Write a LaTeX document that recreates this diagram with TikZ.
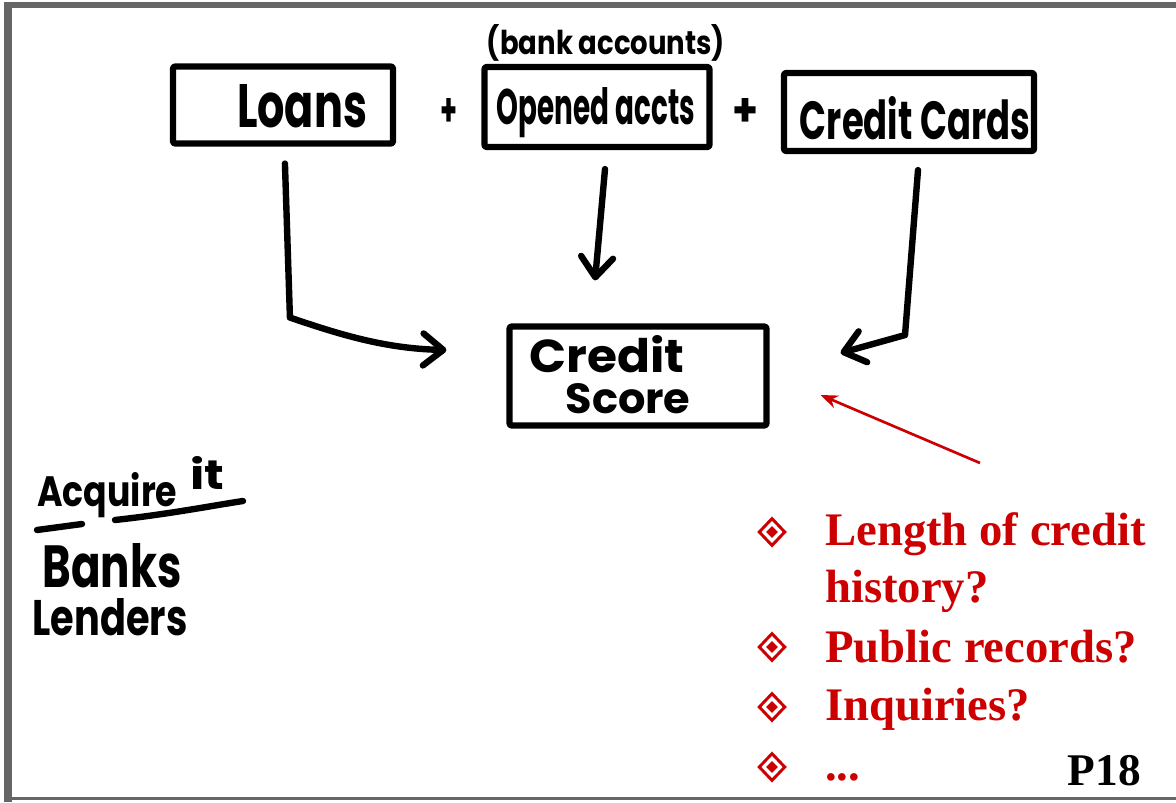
\documentclass[tikz,border=0pt]{standalone}
\usepackage{fontspec}
\usepackage{graphicx}
\setmainfont{Liberation Serif}
\newfontfamily\hand{Poppins}
\usetikzlibrary{arrows.meta,calc,shapes.geometric}
\definecolor{slidered}{RGB}{204,0,0}
\definecolor{framegrey}{RGB}{102,102,102}
\newdimen\px \px=0.75pt
% marker lettering squeezed into a given width and height (in px)
\newcommand\handtext[3]{\resizebox{#1\px}{#2\px}{\hand\bfseries #3}}
\tikzset{
  sketchbox/.style={draw, line width=4.6pt, line join=round, rounded corners=1.5pt, inner sep=0pt},
  handlabel/.style={inner sep=0pt, anchor=base},
  pen/.style={line width=4.8pt, line cap=round, line join=round},
  barb/.style={pen, -{Straight Barb[length=15pt 0, width=24pt 0, round]}},
  listtext/.style={anchor=base west, inner sep=0pt, text=slidered,
    font=\bfseries\fontsize{35}{40}\selectfont},
  bulletout/.style={diamond, draw=slidered, line width=2.2pt, minimum width=20pt, minimum height=21pt, inner sep=0pt},
  bulletin/.style={diamond, fill=slidered, minimum width=9pt, minimum height=9pt, inner sep=0pt}
}
\begin{document}
\begin{tikzpicture}[x=0.75pt, y=-0.75pt]
\useasboundingbox (0,0) rectangle (1176,802);
\fill[white] (0,0) rectangle (1176,802);
% slide frame
\fill[framegrey] (4,2) rectangle (1176,8);
\fill[framegrey] (4,2) rectangle (12,802);
\fill[framegrey] (4,797) rectangle (1176,800);

% sketched boxes
\node[sketchbox, minimum width=220\px, minimum height=77\px] (loans) at (283,105) {};
\node[sketchbox, minimum width=225\px, minimum height=80\px] (accts) at (597,107) {};
\node[sketchbox, minimum width=250\px, minimum height=78\px] (cards) at (909,112) {};
\node[sketchbox, minimum width=257\px, minimum height=99\px] (score) at (638,376) {};

% box lettering
\node[handlabel] (tloans) at (302,128) {\handtext{130}{43}{Loans}};
\node[handlabel] (tbank) at (606,55) {\handtext{238}{30}{(bank accounts)}};
\node[handlabel] (taccts) at (596,125) {\handtext{198}{37}{Opened accts}};
\node[handlabel] (tcards) at (915,140) {\handtext{230}{43}{Credit Cards}};
\node[handlabel] (tcredit) at (607,372) {\handtext{155}{37}{Credit}};
\node[handlabel] (tscore) at (628,413) {\handtext{125}{30}{Score}};
\node[inner sep=0pt] (plusa) at (449,112) {\handtext{17}{28}{+}};
\node[inner sep=0pt] (plusb) at (745,112) {\handtext{26}{28}{+}};

% connectors into the score box
\draw[barb] ($(loans.south west)+(115,17)$) -- ($(loans.south west)+(120,171)$)
  .. controls ($(loans.south west)+(170,188)$) and ($(loans.south west)+(215,202)$)
  .. ($(score.west)+(-60,-26)$);
\draw[barb] ($(accts.south)+(8,19)$) -- ($(score.north)+(-43,-43)$);
\draw[barb] ($(cards.south)+(9,16)$) -- ($(cards.south)+(-4,181)$)
  -- ($(score.east)+(71,-23)$);

% left notes
\node[inner sep=0pt, anchor=base west] (tacq) at (37,506) {\handtext{140}{34}{Acquire}};
\node[inner sep=0pt, anchor=base west] (tit) at (190,489) {\handtext{34}{33}{it}};
\draw[pen] (37,530) -- (82,524);
\draw[pen] (115,520) .. controls (170,514) and (210,506) .. (243,501);
\node[handlabel] (tbanks) at (112,587) {\handtext{139}{44}{Banks}};
\node[handlabel] (tlenders) at (110,635) {\handtext{155}{37}{Lenders}};

% factor list
\foreach \n/\yy in {1/532, 2/647, 3/707, 4/767}{
  \node[bulletout] (b\n) at (772,\yy) {};
  \node[bulletin] at (b\n) {};
}
\node[listtext] (l1) at (825,545) {Length of credit};
\node[listtext] (l1b) at (825,602) {history?};
\node[listtext] (l2) at (825,662) {Public records?};
\node[listtext] (l3) at (825,720) {Inquiries?};
\node[listtext] (l4) at (825,780) {...};
\coordinate (listtop) at (980,463);
\draw[slidered, line width=2pt, -{Stealth[length=13pt 0, width=10pt 0]}] (listtop) -- ($(score.east)+(51,19)$);

% page number
\node[anchor=base east, inner sep=0pt, font=\bfseries\fontsize{34}{40}\selectfont] (page) at (1141,785) {P18};
\end{tikzpicture}
\end{document}
